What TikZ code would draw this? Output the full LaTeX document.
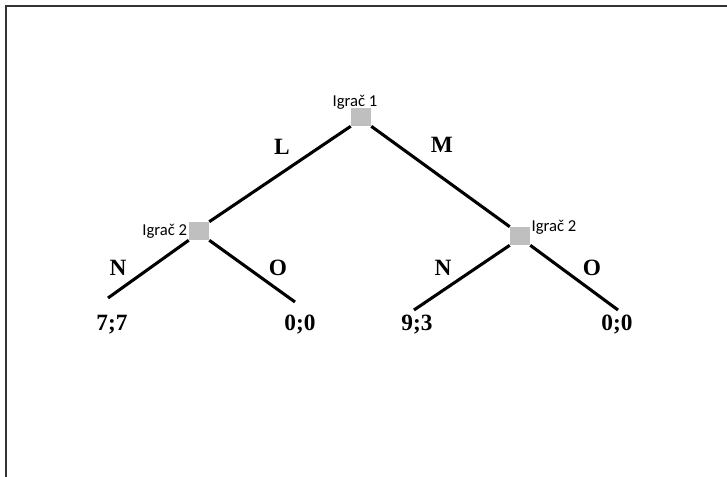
\documentclass[tikz,border=0pt]{standalone}
\usepackage{fontspec}
\setmainfont{Liberation Serif}
\newfontfamily\igracfont{Carlito}
\usetikzlibrary{positioning}
\begin{document}
\begin{tikzpicture}[x=0.75pt, y=-0.75pt]
  \tikzset{
    cvor/.style={fill=black!25, minimum width=15pt, minimum height=13.5pt, inner sep=0pt},
    grana/.style={line width=2.3pt},
    oznaka/.style={font=\bfseries\fontsize{17.5}{20}\selectfont, inner sep=0pt},
    igrac/.style={font=\igracfont\fontsize{12.5}{14}\selectfont, inner sep=0pt}
  }
  \useasboundingbox (0,0) rectangle (727,477);
  \draw[line width=1.4pt, black!80] (6,477) -- (6,6) -- (727,6);

  % cvorovi igre
  \node[cvor] (i1) at (361,117) {};
  \node[cvor] (i2l) at (199,231) {};
  \node[cvor] (i2r) at (520,236) {};
  \node[igrac] (t1) at (355,102) {Igrač 1};
  \node[igrac, left=1pt of i2l] (t2l) {Igrač 2};
  \node[igrac] (t2r) at (554,227) {Igrač 2};

  % krajevi grana
  \coordinate (k1) at (108,298);
  \coordinate (k2) at (295,302);
  \coordinate (k3) at (414,310);
  \coordinate (k4) at (618,310);

  \draw[grana] (i1.south west) -- (i2l.north east);
  \draw[grana] (i1.south east) -- (i2r.north west);
  \draw[grana] (i2l.south west) -- (k1);
  \draw[grana] (i2l.south east) -- (k2);
  \draw[grana] (i2r.south west) -- (k3);
  \draw[grana] (i2r.south east) -- (k4);

  % potezi
  \node[oznaka] (pL) at (282,147) {L};
  \node[oznaka] (pM) at (442,145) {M};
  \node[oznaka] (pN1) at (118,268) {N};
  \node[oznaka] (pO1) at (278,268) {O};
  \node[oznaka] (pN2) at (443,268) {N};
  \node[oznaka] (pO2) at (592,268) {O};

  % isplate
  \foreach \x/\t/\n in {112/{7;7}/a, 300/{0;0}/b, 417/{9;3}/c, 617/{0;0}/d}
    \node[oznaka] (isp\n) at (\x,325) {\t};
\end{tikzpicture}
\end{document}
